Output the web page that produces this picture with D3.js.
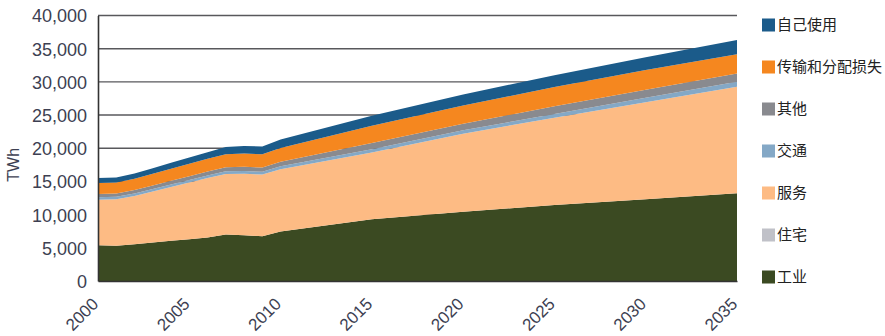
<!DOCTYPE html>
<html lang="zh">
<head>
<meta charset="UTF-8">
<title>电力消费构成</title>
<script src="https://d3js.org/d3.v7.min.js"></script>
<style>
  body { margin: 0; background: #fff; }
  svg text { font-family: "Liberation Sans", Arial, sans-serif; fill: #3d3f52; }
  .legend text { font-family: "Noto Sans CJK SC", sans-serif; }
</style>
</head>
<body>
<svg></svg>
<script>
// years on the x axis
const years = [2000, 2001, 2002, 2003, 2004, 2005, 2006, 2007, 2008, 2009, 2010, 2015, 2020, 2025, 2030, 2035];

// TWh per sector, stacked bottom to top
const industry    = [5400, 5300, 5550, 5800, 6050, 6300, 6550, 7000, 6880, 6750, 7450, 9300, 10450, 11450, 12300, 13230];
const residential = [0, 0, 0, 0, 0, 0, 0, 0, 0, 0, 0, 0, 0, 0, 0, 0];
const services    = [6850, 7030, 7270, 7690, 8110, 8530, 8950, 9120, 9260, 9290, 9390, 10070, 11730, 13160, 14640, 16030];
const transport   = [350, 350, 360, 370, 380, 390, 400, 410, 420, 420, 430, 480, 520, 560, 660, 760];
const other       = [500, 500, 520, 540, 560, 580, 600, 620, 640, 640, 680, 950, 1000, 1150, 1230, 1260];
const losses      = [1650, 1660, 1700, 1750, 1800, 1850, 1900, 1950, 2000, 2000, 2100, 2600, 2750, 2900, 2950, 2870];
const ownUse      = [750, 760, 800, 850, 900, 950, 1000, 1100, 1150, 1150, 1250, 1500, 1650, 1780, 1920, 2150];

const seriesKeys  = ["工业", "住宅", "服务", "交通", "其他", "传输和分配损失", "自己使用"];
const seriesData  = [industry, residential, services, transport, other, losses, ownUse];
const colors      = ["#3b4a22", "#c0c1c8", "#fdbb84", "#84a8c6", "#898a8f", "#f5871f", "#1b5b8a"];

const xTicks = [2000, 2005, 2010, 2015, 2020, 2025, 2030, 2035];
const yTicks = d3.range(0, 40001, 5000);

const width = 885, height = 336;
const margin = { left: 98, right: 148, top: 15.5, bottom: 55 };

const svg = d3.select("svg")
    .attr("width", width)
    .attr("height", height);

const x = d3.scaleLinear()
    .domain([2000, 2035])
    .range([margin.left, width - margin.right]);

const y = d3.scaleLinear()
    .domain([0, 40000])
    .range([height - margin.bottom, margin.top]);

// build rows for the stack
const rows = years.map((yr, i) => {
    const row = { year: yr };
    seriesKeys.forEach((k, j) => row[k] = seriesData[j][i]);
    return row;
});
const stacked = d3.stack().keys(seriesKeys)(rows);

// gridlines behind the areas
svg.append("g")
    .selectAll("line")
    .data(yTicks.filter(d => d > 0))
    .join("line")
    .attr("x1", x(2000))
    .attr("x2", x(2035))
    .attr("y1", d => y(d))
    .attr("y2", d => y(d))
    .attr("stroke", "#58585c")
    .attr("stroke-width", 1.4);

const area = d3.area()
    .x(d => x(d.data.year))
    .y0(d => y(d[0]))
    .y1(d => y(d[1]));

svg.append("g")
    .selectAll("path")
    .data(stacked)
    .join("path")
    .attr("fill", (d, i) => colors[i])
    .attr("d", area);

// y axis
const yAxis = svg.append("g")
    .attr("transform", `translate(${margin.left},0)`)
    .call(d3.axisLeft(y).tickValues(yTicks).tickSize(0).tickPadding(11).tickFormat(d3.format(",")));
yAxis.select(".domain").attr("stroke", "#333").attr("stroke-width", 1.6);
yAxis.selectAll("text").style("font-size", "18px").attr("dy", "0.36em");

// x axis
const xAxis = svg.append("g")
    .attr("transform", `translate(0,${y(0)})`)
    .call(d3.axisBottom(x).tickValues(xTicks).tickSize(0).tickFormat(d3.format("d")));
xAxis.select(".domain").attr("stroke", "#333").attr("stroke-width", 1.6);
xAxis.selectAll("text")
    .style("font-size", "17px")
    .attr("text-anchor", "end")
    .attr("dy", null)
    .attr("y", 0)
    .attr("transform", "translate(1,24) rotate(-45)");

// axis title
svg.append("text")
    .attr("transform", `translate(19,${y(17500)}) rotate(-90)`)
    .attr("text-anchor", "middle")
    .style("font-size", "16px")
    .text("TWh");

// legend, top of the stack first
const legend = svg.append("g")
    .attr("class", "legend")
    .attr("transform", "translate(762,0)");

const legendItems = seriesKeys.map((k, i) => ({ key: k, color: colors[i] })).reverse();

const item = legend.selectAll("g")
    .data(legendItems)
    .join("g")
    .attr("transform", (d, i) => `translate(0,${25 + i * 42})`);

item.append("rect")
    .attr("x", 0)
    .attr("y", -6.5)
    .attr("width", 13)
    .attr("height", 13)
    .attr("fill", d => d.color);

item.append("text")
    .attr("x", 15)
    .attr("dy", "0.36em")
    .style("font-size", "15px")
    .style("fill", "#222")
    .text(d => d.key);
</script>
</body>
</html>
